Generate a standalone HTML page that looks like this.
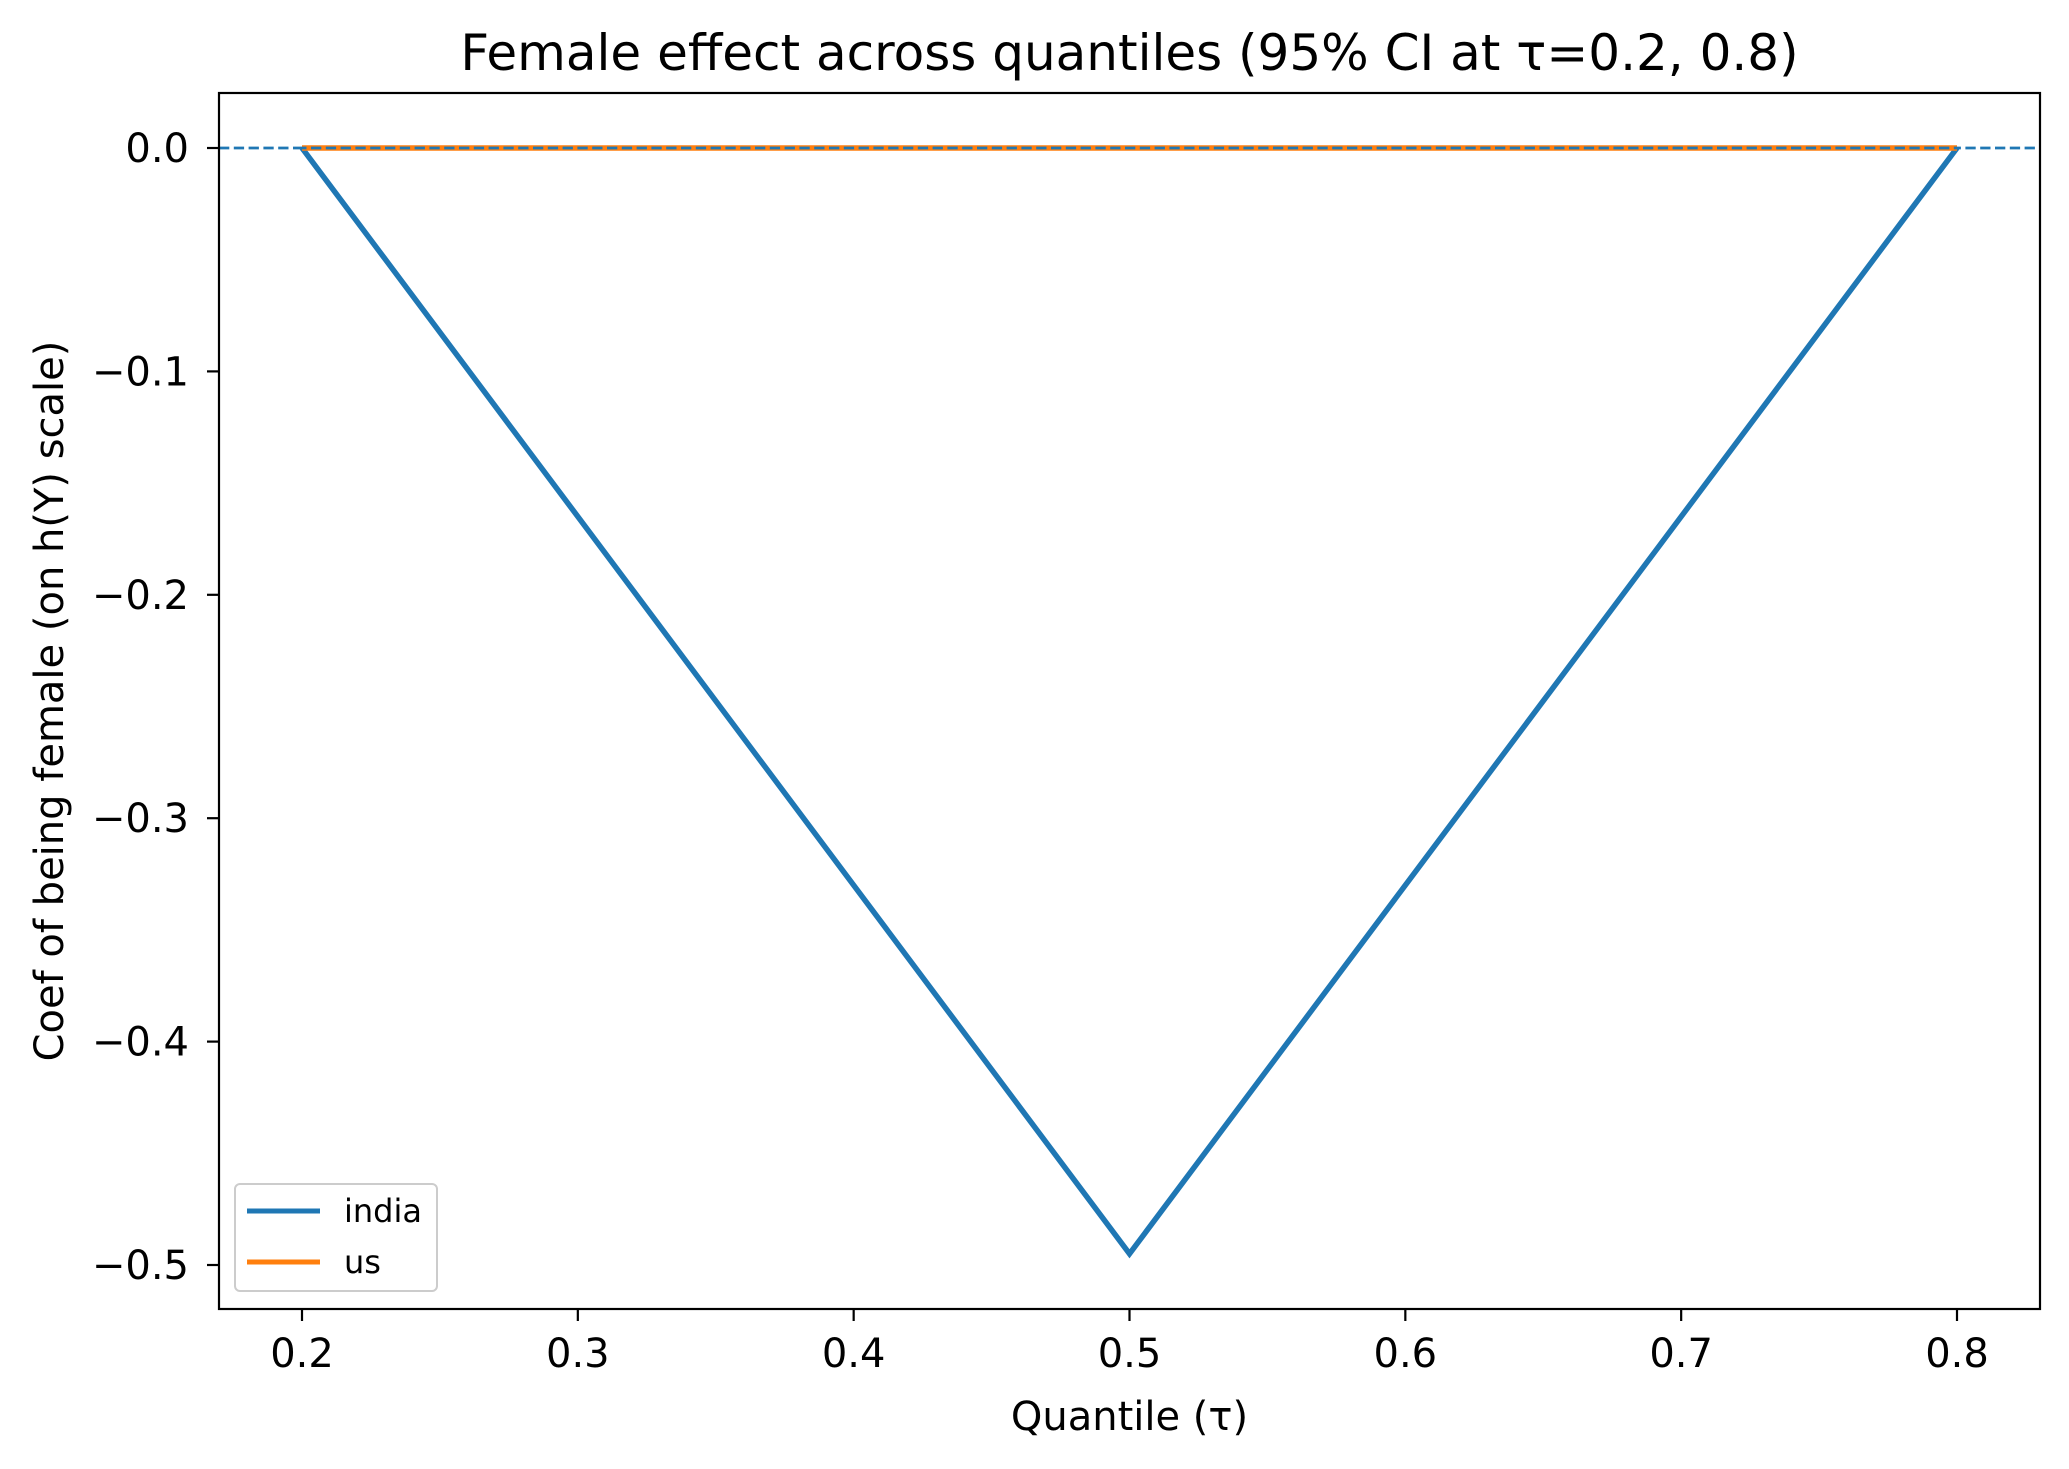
<!DOCTYPE html>
<html><head><meta charset="utf-8"><style>
html,body{margin:0;padding:0;background:#fff;}
svg{display:block;font-family:"DejaVu Sans","Liberation Sans",sans-serif;}
</style></head><body>
<svg id="chart" width="2069" height="1469" viewBox="0 0 2069 1469">
<rect width="2069" height="1469" fill="#fff"/>
<g id="plot"></g>
</svg>
<script>
const quantiles = [0.2, 0.5, 0.8];
const indiaValues = [0, -0.495, 0];
const usValues = [0, 0, 0];
const xTicks = [0.2, 0.3, 0.4, 0.5, 0.6, 0.7, 0.8];
const yTicks = [0.0, -0.1, -0.2, -0.3, -0.4, -0.5];
const yTickLabels = ["0.0", "−0.1", "−0.2", "−0.3", "−0.4", "−0.5"];

const L = 219, R = 2040, T = 93, B = 1309;
function xs(v){ return 302 + (v - 0.2) * (1957 - 302) / 0.6; }
function ys(v){ return 148 + (0 - v) * (1265 - 148) / 0.5; }

const NS = "http://www.w3.org/2000/svg";
const g = document.getElementById('plot');
function mk(tag, attrs, parent){
  const e = document.createElementNS(NS, tag);
  for (const k in attrs) e.setAttribute(k, attrs[k]);
  (parent || g).appendChild(e);
  return e;
}

let t = mk('text', {x:(L+R)/2, y:70, 'font-size':50, 'text-anchor':'middle', fill:'#000'});
t.textContent = 'Female effect across quantiles (95% CI at τ=0.2, 0.8)';



let zl = mk('line', {x1:L, x2:R, y1:ys(0), y2:ys(0), stroke:'#1f77b4', 'stroke-width':2.8, 'stroke-dasharray':'10.3,4.5'});



function series(vals, color, name){
  const pts = quantiles.map((q,i)=> xs(q).toFixed(1)+','+ys(vals[i]).toFixed(1)).join(' ');
  const p = mk('polyline', {points:pts, fill:'none', stroke:color, 'stroke-width':5.5, 'stroke-linejoin':'miter'});
  
  
}
series(indiaValues, '#1f77b4', 'india-line');
series(usValues, '#ff7f0e', 'us-line');
let zl2 = mk('line', {x1:xs(0.2), x2:xs(0.8), y1:ys(0), y2:ys(0), stroke:'#1f77b4', 'stroke-width':2.8, 'stroke-dasharray':'10.3,4.5', 'stroke-dashoffset': -((xs(0.2)-L)%14.8)});



let fr = mk('rect', {x:L, y:T, width:R-L, height:B-T, fill:'none', stroke:'#000', 'stroke-width':2.2});



xTicks.forEach((v,i)=>{
  const x = xs(v);
  const tk = mk('line', {x1:x, x2:x, y1:B, y2:B+12, stroke:'#000', 'stroke-width':2.2});
  
  
  const lb = mk('text', {x:x, y:B+58, 'font-size':40, 'text-anchor':'middle', fill:'#000'});
  lb.textContent = v.toFixed(1);
  
  
});
yTicks.forEach((v,i)=>{
  const y = ys(v);
  const tk = mk('line', {x1:L-12, x2:L, y1:y, y2:y, stroke:'#000', 'stroke-width':2.2});
  
  
  const lb = mk('text', {x:L-30, y:y+14, 'font-size':40, 'text-anchor':'end', fill:'#000'});
  lb.textContent = yTickLabels[i];
  
  
});

let xl = mk('text', {x:(L+R)/2, y:1430, 'font-size':40, 'text-anchor':'middle', fill:'#000'});
xl.textContent = 'Quantile (τ)';



let yl = mk('text', {x:0, y:0, 'font-size':40, 'text-anchor':'middle', fill:'#000', transform:'translate(63,'+((T+B)/2)+') rotate(-90)'});
yl.textContent = 'Coef of being female (on h(Y) scale)';



const lg = mk('g', {});


mk('rect', {x:235, y:1184, width:202, height:107, rx:5, fill:'#fff', 'fill-opacity':0.8, stroke:'#ccc', 'stroke-width':2}, lg);
[['india','#1f77b4',1211],['us','#ff7f0e',1262]].forEach(([n,c,y])=>{
  const ln = mk('line', {x1:247, x2:320, y1:y, y2:y, stroke:c, 'stroke-width':5}, lg);
  
  
  const tx = mk('text', {x:344, y:y+11, 'font-size':32, fill:'#000'}, lg);
  tx.textContent = n;
  
  
});
</script>
</body></html>
